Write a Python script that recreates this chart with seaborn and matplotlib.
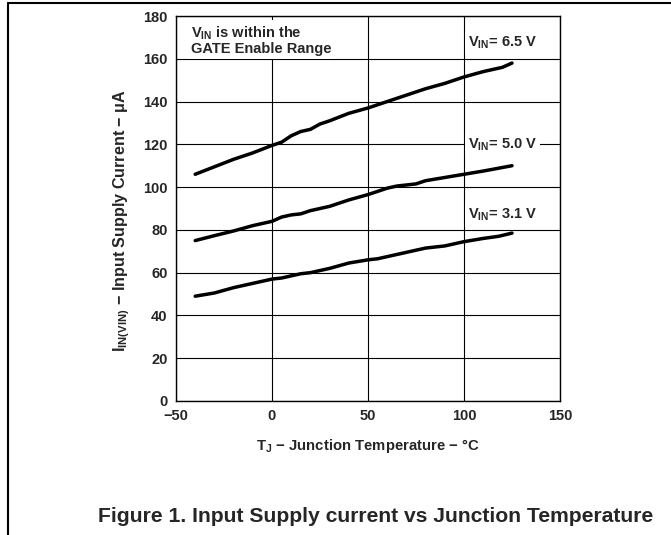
import matplotlib
matplotlib.use("Agg")
import matplotlib.pyplot as plt
import seaborn as sns
import pandas as pd
from matplotlib.lines import Line2D

temp_65 = [-40, -30, -20, -10, 0, 5, 10, 15, 20, 25, 30, 40, 50, 60, 70, 80, 90, 100, 110, 120, 125]
curr_65 = [106, 109.5, 113, 116, 119.5, 121, 124, 126, 127, 129.5, 131, 134.5, 137, 140, 143, 146, 148.5, 151.5, 154, 156, 158]

temp_50 = [-40, -30, -20, -10, 0, 5, 10, 15, 20, 30, 40, 50, 55, 60, 65, 75, 80, 90, 100, 110, 125]
curr_50 = [75, 77.3, 79.5, 82, 84, 86, 87, 87.5, 89, 91, 94, 96.5, 98, 99.5, 100.5, 101.5, 103, 104.5, 106, 107.5, 110]

temp_31 = [-40, -30, -20, -10, 0, 5, 10, 15, 20, 30, 40, 50, 55, 60, 70, 80, 90, 100, 110, 118, 125]
curr_31 = [49, 50.5, 53, 55, 57, 57.5, 58.5, 59.5, 60, 62, 64.5, 66, 66.5, 67.5, 69.5, 71.5, 72.5, 74.5, 76, 77, 78.5]

series_labels = ["6.5 V", "5.0 V", "3.1 V"]
x_ticks = [-50, 0, 50, 100, 150]
y_ticks = [0, 20, 40, 60, 80, 100, 120, 140, 160, 180]

sns.set_style("white")
plt.rcParams['font.family'] = ['Liberation Sans', 'DejaVu Sans']
plt.rcParams['mathtext.fontset'] = 'custom'
plt.rcParams['mathtext.rm'] = 'Liberation Sans'
plt.rcParams['mathtext.bf'] = 'Liberation Sans:bold'
plt.rcParams['mathtext.it'] = 'Liberation Sans:italic'

frames = []
for t, c, lab in [(temp_65, curr_65, series_labels[0]), (temp_50, curr_50, series_labels[1]), (temp_31, curr_31, series_labels[2])]:
    frames.append(pd.DataFrame({"T": t, "I": c, "V": lab}))
df = pd.concat(frames, ignore_index=True)

fig = plt.figure(figsize=(6.71, 5.35), dpi=100)
ax = fig.add_axes([176/671, 1-401/535, (560-176)/671, (401-16)/535])

sns.lineplot(data=df, x="T", y="I", hue="V", palette=["black"]*3, linewidth=2.5,
             legend=False, ax=ax, sort=True, estimator=None)

ax.set_xlim(-50, 150)
ax.set_ylim(0, 180)
ax.set_xticks(x_ticks)
ax.set_yticks(y_ticks)
ax.set_xticklabels(["\u221250", "0", "50", "100", "150"])
ax.grid(True, color="black", linewidth=0.8)
ax.set_axisbelow(True)
for s in ax.spines.values():
    s.set_color("black")
    s.set_linewidth(1.0)
ax.tick_params(length=0, pad=6, labelsize=10.5)
for lbl in ax.get_xticklabels() + ax.get_yticklabels():
    lbl.set_fontweight("bold")

ax.set_xlabel("T$_\\mathbf{J}$ \u2212 Junction Temperature \u2212 \u00b0C",
              fontsize=10.7, fontweight="bold", labelpad=10)
ax.set_ylabel("I$_\\mathbf{IN(VIN)}$ \u2212 Input Supply Current \u2212 \u03bcA",
              fontsize=11.6, fontweight="bold")
ax.yaxis.set_label_coords(-0.114, 0.4675)

box = dict(facecolor="white", edgecolor="none", pad=2)
ax.text(-42, 176, "V$_\\mathbf{IN}$ is within the\nGATE Enable Range", fontsize=10.5, fontweight="bold",
        va="top", ha="left", bbox=box, linespacing=1.0)
for yv, lab in [(167.5, series_labels[0]), (120, series_labels[1]), (87, series_labels[2])]:
    ax.text(102, yv, "V$_\\mathbf{IN}$= " + lab, fontsize=10.5, fontweight="bold",
            va="center", ha="left", bbox=box)

fig.text(376/671, 1-517/535, "Figure 1. Input Supply current vs Junction Temperature",
         fontsize=15.2, fontweight="bold", ha="center", va="center")

fig.add_artist(Line2D([8/671, 1], [1-3/535, 1-3/535], color="black", linewidth=1.5, transform=fig.transFigure))
fig.add_artist(Line2D([8/671, 8/671], [1-3/535, 0], color="black", linewidth=1.5, transform=fig.transFigure))

fig.savefig("out.png", dpi=100)
